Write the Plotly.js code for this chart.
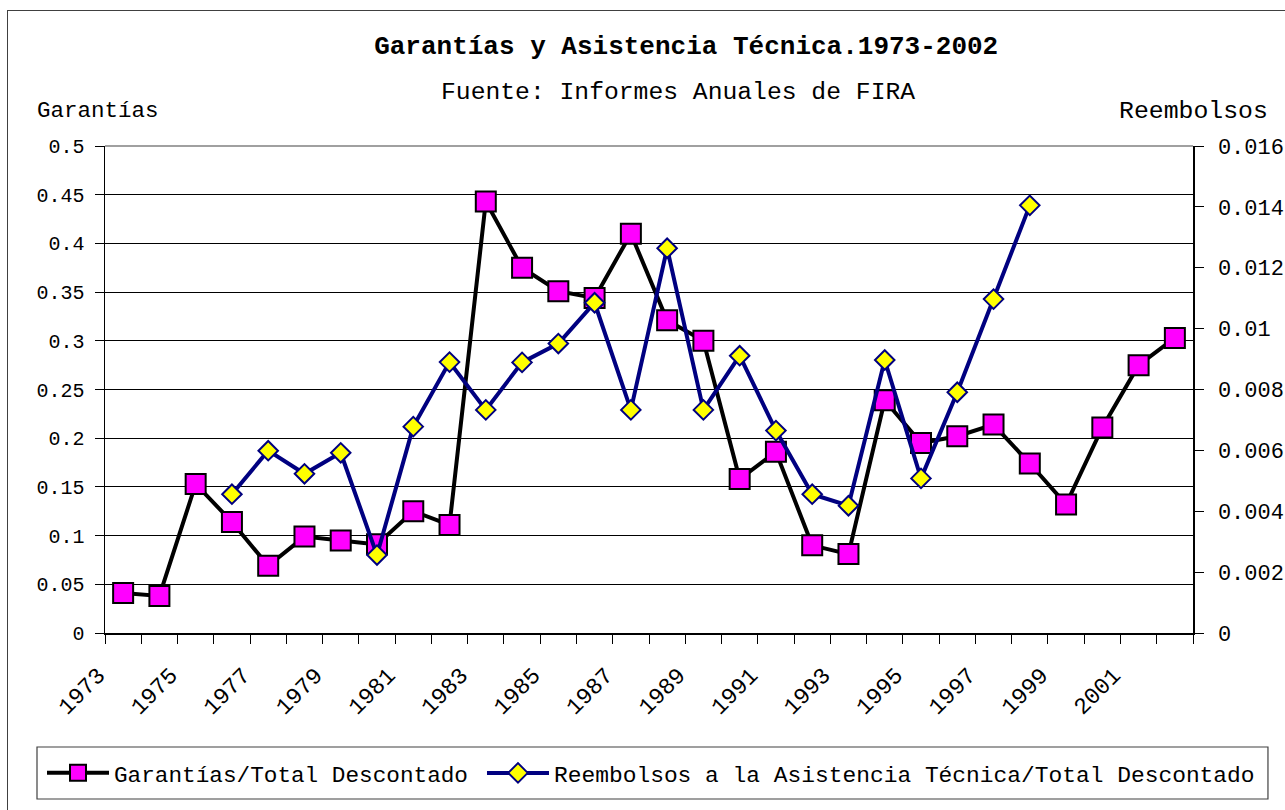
<!DOCTYPE html>
<html>
<head>
<meta charset="utf-8">
<script src="https://cdn.plot.ly/plotly-3.0.1.min.js"></script>
<style>
  body { margin: 0; overflow: hidden; background: #fff; }
  #chart { width: 1285px; height: 810px; }
  #frame { position: absolute; left: 7px; top: 10px; width: 1320px; height: 840px;
           border: 1.5px solid #404040; pointer-events: none; }
</style>
</head>
<body>
<div id="chart"></div>
<div id="frame"></div>
<script>
// ---- data ----
const years = [1973, 1974, 1975, 1976, 1977, 1978, 1979, 1980, 1981, 1982,
               1983, 1984, 1985, 1986, 1987, 1988, 1989, 1990, 1991, 1992,
               1993, 1994, 1995, 1996, 1997, 1998, 1999, 2000, 2001, 2002];
const garantias = [0.041, 0.038, 0.153, 0.114, 0.069, 0.099, 0.095, 0.091, 0.125, 0.111,
                   0.443, 0.375, 0.351, 0.344, 0.410, 0.321, 0.300, 0.158, 0.186, 0.090,
                   0.081, 0.239, 0.195, 0.202, 0.214, 0.174, 0.132, 0.211, 0.275, 0.303];
const reembolsos = [null, null, null, 0.00456, 0.00599, 0.00523, 0.00592, 0.00256, 0.00678, 0.0089,
                    0.00733, 0.00889, 0.00951, 0.01085, 0.00733, 0.01264, 0.00733, 0.00911, 0.00665, 0.00456,
                    0.00418, 0.00897, 0.00508, 0.00791, 0.01097, 0.01405, null, null, null, null];
const yearLabels = [1973, 1975, 1977, 1979, 1981, 1983, 1985, 1987, 1989, 1991, 1993, 1995, 1997, 1999, 2001];
const leftTickVals = [0, 0.05, 0.1, 0.15, 0.2, 0.25, 0.3, 0.35, 0.4, 0.45, 0.5];
const leftTickText = ["0", "0.05", "0.1", "0.15", "0.2", "0.25", "0.3", "0.35", "0.4", "0.45", "0.5"];
const rightTickVals = [0, 0.002, 0.004, 0.006, 0.008, 0.01, 0.012, 0.014, 0.016];
const rightTickText = ["0", "0.002", "0.004", "0.006", "0.008", "0.01", "0.012", "0.014", "0.016"];
const seriesNames = ["Garantías/Total Descontado",
                     "Reembolsos a la Asistencia Técnica/Total Descontado"];
const titleText = "Garantías y Asistencia Técnica.1973-2002";
const subtitleText = "Fuente: Informes Anuales de FIRA";
const leftAxisTitle = "Garantías";
const rightAxisTitle = "Reembolsos";

const FONT = "Liberation Mono, DejaVu Sans Mono, monospace";

const traces = [
  {
    x: years, y: garantias, name: seriesNames[0], type: "scatter", mode: "lines+markers",
    legend: "legend",
    line: { color: "#000000", width: 4 },
    marker: { symbol: "square", size: 20, color: "#FF00FF", line: { color: "#000000", width: 2 } }
  },
  {
    x: years, y: reembolsos, name: seriesNames[1], type: "scatter", mode: "lines+markers",
    yaxis: "y2", legend: "legend2",
    line: { color: "#000080", width: 4 },
    marker: { symbol: "diamond", size: 15, color: "#FFFF00", line: { color: "#000080", width: 2 } }
  }
];

const layout = {
  width: 1285, height: 810,
  margin: { l: 105, r: 92, t: 146, b: 177, autoexpand: false },
  paper_bgcolor: "#ffffff", plot_bgcolor: "#ffffff",
  font: { family: FONT, color: "#000000" },
  title: {
    text: "<b>" + titleText + "</b>",
    font: { family: FONT, size: 26, color: "#000000" },
    xref: "container", yref: "container",
    x: 0.534, xanchor: "center", y: 0.944, yanchor: "middle"
  },
  xaxis: {
    range: [1972.5, 2002.5], automargin: false,
    tickmode: "array", tickvals: yearLabels, ticktext: yearLabels.map(String),
    tickangle: -45, ticks: "",
    ticklabelstandoff: 18, ticklabelshift: -25,
    tickfont: { family: FONT, size: 23, color: "#000" },
    showline: true, linecolor: "#000000", linewidth: 1.5,
    showgrid: false, zeroline: false,
    minor: { tick0: 1972.5, dtick: 1, ticks: "outside", ticklen: 9, tickwidth: 1, tickcolor: "#000", showgrid: false }
  },
  yaxis: {
    range: [0, 0.5], automargin: false,
    tickmode: "array", tickvals: leftTickVals, ticktext: leftTickText,
    ticks: "outside", ticklen: 9, tickwidth: 1, tickcolor: "#000",
    ticklabelstandoff: 6,
    tickfont: { family: FONT, size: 20, color: "#000" },
    showline: true, linecolor: "#000000", linewidth: 1.5,
    showgrid: true, gridcolor: "#000000", gridwidth: 1, zeroline: false
  },
  yaxis2: {
    range: [0, 0.016], overlaying: "y", side: "right", automargin: false,
    tickmode: "array", tickvals: rightTickVals, ticktext: rightTickText,
    ticks: "outside", ticklen: 9, tickwidth: 1, tickcolor: "#000",
    ticklabelstandoff: 10,
    tickfont: { family: FONT, size: 22, color: "#000" },
    showline: true, linecolor: "#000000", linewidth: 1.5,
    showgrid: false, zeroline: false
  },
  showlegend: true,
  legend: {
    orientation: "h", x: -0.0579, xanchor: "left", y: -0.2875, yanchor: "middle",
    font: { family: FONT, size: 22.7, color: "#000" },
    itemwidth: 62, bgcolor: "rgba(0,0,0,0)", borderwidth: 0
  },
  legend2: {
    orientation: "h", x: 0.3465, xanchor: "left", y: -0.2875, yanchor: "middle",
    font: { family: FONT, size: 22.9, color: "#000" },
    itemwidth: 62, bgcolor: "rgba(0,0,0,0)", borderwidth: 0
  },
  shapes: [
    { type: "line", xref: "paper", yref: "paper", x0: 0, x1: 1, y0: 1, y1: 1,
      line: { color: "#808080", width: 1.5 } },
    { type: "rect", xref: "paper", yref: "paper", x0: -0.0625, x1: 1.0689, y0: -0.2341, y1: -0.3409,
      line: { color: "#404040", width: 1.2 }, fillcolor: "rgba(0,0,0,0)" }
  ],
  annotations: [
    { text: subtitleText, xref: "paper", yref: "paper", x: 0.5267, y: 1.1109,
      xanchor: "center", yanchor: "middle", showarrow: false,
      font: { family: FONT, size: 24.7, color: "#000" } },
    { text: leftAxisTitle, xref: "paper", yref: "paper", x: -0.0643, y: 1.0719,
      xanchor: "left", yanchor: "middle", showarrow: false,
      font: { family: FONT, size: 22.5, color: "#000" } },
    { text: rightAxisTitle, xref: "paper", yref: "paper", x: 1.0708, y: 1.0719,
      xanchor: "right", yanchor: "middle", showarrow: false,
      font: { family: FONT, size: 24.8, color: "#000" } }
  ]
};

Plotly.newPlot("chart", traces, layout, { displayModeBar: false, staticPlot: true });
</script>
</body>
</html>
